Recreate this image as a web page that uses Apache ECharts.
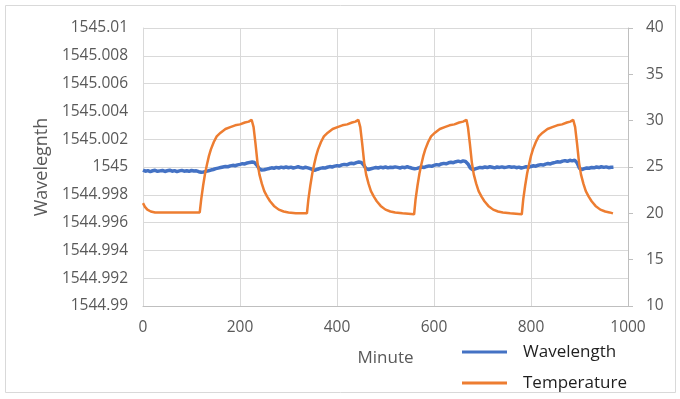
<!DOCTYPE html>
<html>
<head>
<meta charset="utf-8">
<script src="https://cdn.jsdelivr.net/npm/echarts@6/dist/echarts.min.js"></script>
<style>
  html, body { margin: 0; padding: 0; background: #fff; }
  #chart { width: 680px; height: 399px; }
</style>
</head>
<body>
<div id="chart"></div>
<script>
// x ticks
const minuteTicks = [0, 200, 400, 600, 800, 1000];

// wavelength, one reading every 5 minutes starting at minute 0
const waveStart = 0;
const waveStep = 5;
const wavelength = [
  1544.99978, 1544.99970, 1544.99974, 1544.99967, 1544.99973, 1544.99976, 1544.99969, 1544.99972, 1544.99975, 1544.99968,
  1544.99973, 1544.99977, 1544.99970, 1544.99974, 1544.99967, 1544.99972, 1544.99976, 1544.99970, 1544.99973, 1544.99969,
  1544.99975, 1544.99971, 1544.99973, 1544.99966, 1544.99962, 1544.99964, 1544.99969, 1544.99973, 1544.99978, 1544.99982,
  1544.99988, 1544.99992, 1544.99996, 1545.00000, 1545.00004, 1545.00002, 1545.00008, 1545.00012, 1545.00009, 1545.00015,
  1545.00019, 1545.00024, 1545.00022, 1545.00029, 1545.00033, 1545.00036, 1545.00032, 1545.00012, 1544.99986, 1544.99978,
  1544.99980, 1544.99985, 1544.99989, 1544.99994, 1544.99991, 1544.99997, 1544.99993, 1544.99999, 1544.99995, 1545.00000,
  1544.99995, 1544.99999, 1544.99993, 1544.99997, 1545.00002, 1544.99996, 1544.99992, 1544.99998, 1544.99994, 1544.99988,
  1544.99980, 1544.99977, 1544.99984, 1544.99990, 1544.99994, 1544.99992, 1544.99998, 1545.00003, 1545.00000, 1545.00006,
  1545.00010, 1545.00007, 1545.00015, 1545.00019, 1545.00016, 1545.00023, 1545.00027, 1545.00024, 1545.00031, 1545.00036,
  1545.00033, 1545.00014, 1544.99988, 1544.99982, 1544.99987, 1544.99992, 1544.99996, 1544.99993, 1544.99999, 1544.99995,
  1545.00000, 1544.99994, 1544.99998, 1544.99996, 1545.00001, 1544.99997, 1544.99993, 1544.99999, 1544.99995, 1545.00002,
  1544.99996, 1544.99991, 1544.99987, 1544.99990, 1544.99996, 1545.00000, 1544.99997, 1545.00004, 1545.00008, 1545.00005,
  1545.00012, 1545.00017, 1545.00014, 1545.00022, 1545.00026, 1545.00023, 1545.00030, 1545.00034, 1545.00031, 1545.00038,
  1545.00042, 1545.00037, 1545.00044, 1545.00040, 1545.00022, 1544.99992, 1544.99980, 1544.99986, 1544.99992, 1544.99997,
  1544.99995, 1545.00000, 1544.99996, 1545.00002, 1544.99998, 1544.99994, 1545.00000, 1544.99997, 1545.00001, 1544.99996,
  1544.99999, 1545.00003, 1544.99998, 1545.00001, 1544.99995, 1544.99999, 1544.99993, 1544.99997, 1545.00002, 1544.99998,
  1545.00004, 1545.00009, 1545.00006, 1545.00013, 1545.00017, 1545.00014, 1545.00021, 1545.00025, 1545.00022, 1545.00029,
  1545.00033, 1545.00038, 1545.00035, 1545.00042, 1545.00046, 1545.00041, 1545.00048, 1545.00044, 1545.00049, 1545.00030,
  1544.99990, 1544.99982, 1544.99988, 1544.99993, 1544.99991, 1544.99997, 1544.99994, 1545.00000, 1544.99996, 1545.00002,
  1544.99997, 1545.00001, 1544.99995, 1544.99998, 1544.99999
];

// temperature, read at irregular minutes
const tempMinutes = [
  0, 4, 9, 16, 25, 40, 117, 120, 124, 128, 132, 136, 140, 146, 152, 160, 170, 180, 190, 200, 210, 218, 224,
  228, 232, 236, 240, 245, 250, 256, 262, 270, 280, 290, 300, 315, 338,
  341, 345, 349, 353, 357, 361, 367, 373, 381, 391, 401, 411, 421, 431, 438, 444,
  448, 452, 456, 460, 465, 470, 476, 482, 490, 500, 510, 520, 535, 559,
  562, 566, 570, 574, 578, 582, 588, 594, 602, 612, 622, 632, 642, 652, 660, 667,
  670, 674, 678, 682, 687, 692, 698, 704, 712, 722, 732, 742, 757, 781,
  784, 788, 792, 796, 800, 804, 810, 816, 824, 834, 844, 854, 864, 874, 881, 887,
  891, 895, 899, 903, 908, 913, 919, 925, 933, 943, 953, 962, 969
];
const temperature = [
  21.1, 20.7, 20.4, 20.2, 20.1, 20.1, 20.1, 21.5, 23.0, 24.3, 25.3, 26.2, 26.9, 27.7, 28.3, 28.7, 29.1, 29.3, 29.5, 29.6, 29.8, 29.9, 30.1,
  29.3, 27.5, 25.5, 24.2, 23.2, 22.4, 21.8, 21.3, 20.8, 20.4, 20.2, 20.1, 20.0, 20.0,
  21.5, 23.0, 24.3, 25.3, 26.2, 26.9, 27.7, 28.3, 28.7, 29.1, 29.3, 29.5, 29.6, 29.8, 29.9, 30.1,
  29.3, 27.5, 25.5, 24.2, 23.2, 22.4, 21.8, 21.3, 20.8, 20.4, 20.2, 20.1, 20.0, 19.9,
  21.5, 23.0, 24.3, 25.3, 26.2, 26.9, 27.7, 28.3, 28.7, 29.1, 29.3, 29.5, 29.6, 29.8, 29.9, 30.1,
  29.3, 27.5, 25.5, 24.2, 23.2, 22.4, 21.8, 21.3, 20.8, 20.4, 20.2, 20.1, 20.0, 19.9,
  21.5, 23.0, 24.3, 25.3, 26.2, 26.9, 27.7, 28.3, 28.7, 29.1, 29.3, 29.5, 29.6, 29.8, 29.9, 30.1,
  29.3, 27.5, 25.5, 24.2, 23.2, 22.4, 21.8, 21.3, 20.8, 20.4, 20.2, 20.1, 20.0
];

const font = '"Open Sans", "Noto Sans", sans-serif';
const gray = '#595959';
const gridColor = '#d9d9d9';

const wavePairs = wavelength.map((v, i) => [waveStart + i * waveStep, v]);
const tempPairs = tempMinutes.map((m, i) => [m, temperature[i]]);

const chart = echarts.init(document.getElementById('chart'));
chart.setOption({
  animation: false,
  backgroundColor: '#fff',
  graphic: [{
    type: 'rect',
    shape: { x: 5.5, y: 5.5, width: 670, height: 387 },
    style: { fill: null, stroke: gridColor, lineWidth: 1 },
    z: -1
  }],
  grid: { left: 143, right: 52, top: 28, bottom: 93 },
  legend: {
    orient: 'vertical',
    left: 462,
    top: 343,
    padding: 0,
    icon: 'rect',
    itemWidth: 45,
    itemHeight: 3,
    itemGap: 13,
    textStyle: { fontFamily: font, fontSize: 17, color: '#1f1f1f', padding: [0, 0, 0, 11], lineHeight: 18 },
    data: ['Wavelength', 'Temperature']
  },
  xAxis: {
    type: 'value',
    min: minuteTicks[0],
    max: minuteTicks[minuteTicks.length - 1],
    interval: 200,
    name: 'Minute',
    nameLocation: 'middle',
    nameGap: 44,
    nameTextStyle: { fontFamily: font, fontSize: 17, color: gray },
    axisLine: { lineStyle: { color: '#bfbfbf' } },
    axisTick: { show: false },
    axisLabel: { margin: 14, fontFamily: font, fontSize: 15.5, color: gray, formatter: v => String(v) },
    splitLine: { show: true, lineStyle: { color: gridColor } }
  },
  yAxis: [{
    type: 'value',
    min: 1544.99,
    max: 1545.01,
    interval: 0.002,
    name: 'Wavelegnth',
    nameLocation: 'middle',
    nameGap: 90,
    nameTextStyle: { fontFamily: font, fontSize: 18, color: gray },
    axisLine: { show: true, lineStyle: { color: gridColor } },
    axisTick: { show: false },
    axisLabel: {
      margin: 15, fontFamily: font, fontSize: 15.5, color: gray,
      formatter: v => String(+v.toFixed(3))
    },
    splitLine: { show: true, lineStyle: { color: gridColor } }
  }, {
    type: 'value',
    position: 'right',
    min: 10,
    max: 40,
    interval: 5,
    axisLine: { show: true, lineStyle: { color: '#bfbfbf' } },
    axisTick: { show: true, length: 5, lineStyle: { color: '#bfbfbf' } },
    axisLabel: { margin: 18, fontFamily: font, fontSize: 15.5, color: gray },
    splitLine: { show: false }
  }],
  series: [{
    name: 'Wavelength',
    type: 'line',
    yAxisIndex: 0,
    data: wavePairs,
    showSymbol: false,
    color: '#4472C4',
    lineStyle: { width: 3.5 }
  }, {
    name: 'Temperature',
    type: 'line',
    yAxisIndex: 1,
    data: tempPairs,
    showSymbol: false,
    color: '#ED7D31',
    lineStyle: { width: 2.5 }
  }]
});
</script>
</body>
</html>
